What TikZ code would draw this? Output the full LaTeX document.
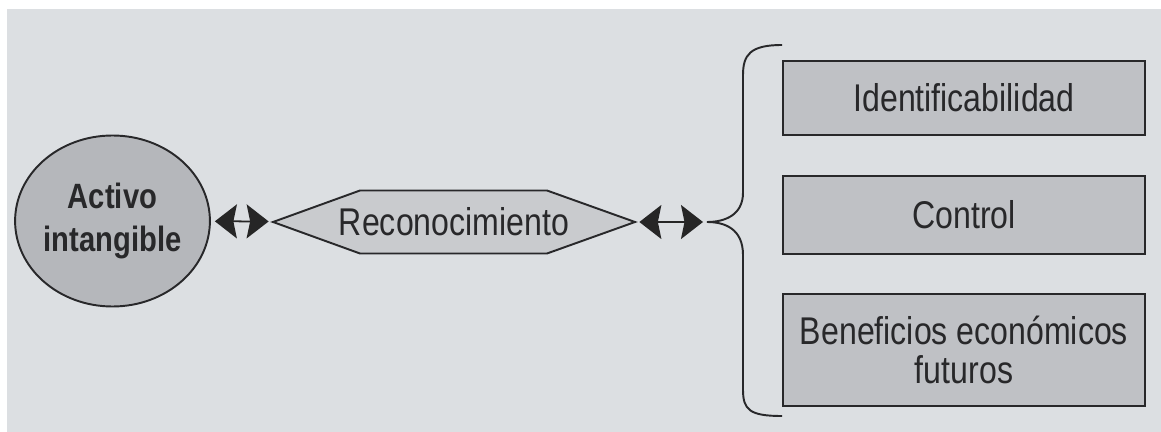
\documentclass[tikz,border=0pt]{standalone}
\usepackage{fontspec}
\setmainfont{Liberation Sans}[FakeStretch=0.83]
\usetikzlibrary{shapes.geometric,arrows.meta}

\definecolor{bggrey}{RGB}{220,223,226}
\definecolor{circlegrey}{RGB}{181,183,187}
\definecolor{hexgrey}{RGB}{201,203,206}
\definecolor{boxgrey}{RGB}{191,193,197}
\definecolor{inkdark}{RGB}{40,40,42}

\tikzset{
    box/.style={draw=inkdark, line width=1.3pt, fill=boxgrey, minimum width=7.24cm,
        text=inkdark, align=center, font=\fontsize{22}{22.7}\selectfont},
    biarrow/.style={{Stealth[length=0.44cm,width=0.68cm,inset=0.07cm]}-{Stealth[length=0.44cm,width=0.68cm,inset=0.07cm]},
        draw=black!85, line width=1pt, shorten <=0.08cm, shorten >=0.08cm}
}

\begin{document}
\begin{tikzpicture}
    % Page and background
    \useasboundingbox (0,0) rectangle (23.22,-8.64);
    \fill[bggrey] (0.14,-0.18) rectangle (23.22,-8.64);

    % Hexagon behind the middle label
    \coordinate (rc) at (9.08,-4.44);
    \draw[inkdark, line width=1.1pt, fill=hexgrey] ([shift={(-3.62,0)}]rc) -- ([shift={(-1.88,0.63)}]rc)
        -- ([shift={(1.86,0.63)}]rc) -- ([shift={(3.62,0)}]rc)
        -- ([shift={(1.86,-0.63)}]rc) -- ([shift={(-1.88,-0.63)}]rc) -- cycle;

    % Define the nodes
    \node[ellipse, draw=inkdark, line width=1.1pt, fill=circlegrey, inner sep=0pt, minimum width=3.82cm,
        minimum height=3.42cm, align=center, text=inkdark,
        font=\fontsize{20}{24}\selectfont\bfseries] (activo) at (2.25,-4.42) {Activo\\intangible};
    \node[minimum width=7.24cm, minimum height=1.26cm, inner sep=0pt, text=inkdark,
        font=\fontsize{22}{26}\selectfont] (recon) at (rc) {Reconocimiento};
    \node[box, minimum height=1.48cm] (ident) at (19.28,-1.96) {Identificabilidad};
    \node[box, minimum height=1.56cm] (control) at (19.28,-4.30) {Control};
    \node[box, minimum height=2.24cm] (benef) at (19.28,-7.00) {Beneficios económicos\\futuros};
    \coordinate (bracetip) at (14.14,-4.44);

    % Draw the brace
    \draw[inkdark, line width=1.1pt] (15.64,-0.90) .. controls (15.00,-0.90) and (14.86,-1.10) .. (14.86,-1.50)
        -- (14.86,-3.85) .. controls (14.86,-4.30) and (14.50,-4.44) .. (bracetip)
        .. controls (14.50,-4.44) and (14.86,-4.58) .. (14.86,-5.10)
        -- (14.86,-7.80) .. controls (14.86,-8.20) and (15.00,-8.32) .. (15.64,-8.32);

    % Draw the arrows
    \draw[biarrow] (activo) -- (recon);
    \draw[biarrow] (recon) -- (bracetip);
\end{tikzpicture}
\end{document}
